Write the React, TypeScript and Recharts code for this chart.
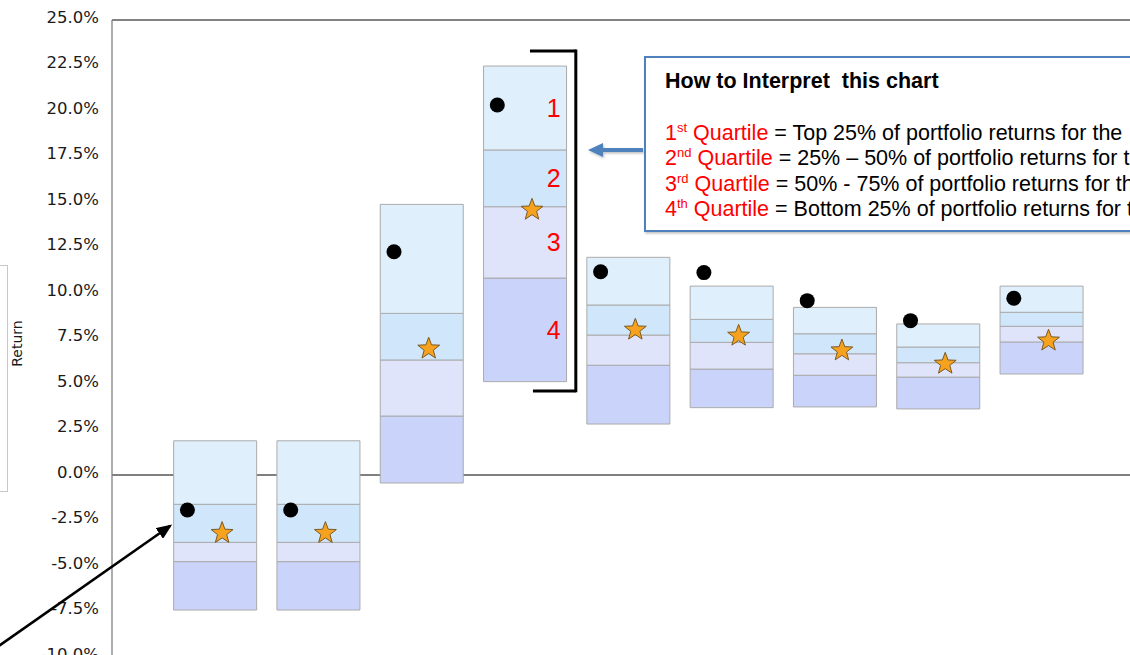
import React from "react";
import {
  ComposedChart,
  Bar,
  Scatter,
  XAxis,
  YAxis,
  CartesianGrid,
  ReferenceLine,
  LabelList,
} from "recharts";

// one slot per box on the x axis (no labels shown)
const boxIds = [1, 2, 3, 4, 5, 6, 7, 8, 9];

// quartile boundaries, in % return
const lowValues = [-7.42, -7.42, -0.44, 5.13, 2.8, 3.7, 3.74, 3.63, 5.55];
const q4Top = [-4.76, -4.76, 3.24, 10.82, 6.03, 5.82, 5.48, 5.38, 7.31];
const q3Top = [-3.7, -3.7, 6.32, 14.74, 7.69, 7.29, 6.66, 6.17, 8.17];
const q2Top = [-1.61, -1.61, 8.88, 17.86, 9.34, 8.55, 7.76, 7.03, 8.94];
const highValues = [1.88, 1.88, 14.87, 22.47, 11.96, 10.38, 9.21, 8.3, 10.38];

// markers
const dotValues = [-1.92, -1.92, 12.27, 20.33, 11.17, 11.12, 9.58, 8.48, 9.71];
const starValues = [-3.11, -3.11, 7.02, 14.65, 8.06, 7.73, 6.92, 6.19, 7.46];

const yTicks = [-10, -7.5, -5, -2.5, 0, 2.5, 5, 7.5, 10, 12.5, 15, 17.5, 20, 22.5, 25];
const yDomain = [-10, 25];

const explainedBox = 4; // box carrying the 1..4 labels

const DOT_SHIFT = -0.27;
const STAR_SHIFT = 0.066;

const boxData = boxIds.map((id, i) => ({
  x: id,
  base: lowValues[i],
  q4: q4Top[i] - lowValues[i],
  q3: q3Top[i] - q4Top[i],
  q2: q2Top[i] - q3Top[i],
  q1: highValues[i] - q2Top[i],
}));

const dotData = boxIds.map((id, i) => ({ x: id + DOT_SHIFT, y: dotValues[i] }));
const starData = boxIds.map((id, i) => ({ x: id + STAR_SHIFT, y: starValues[i] }));

const SANS = "'Liberation Sans', Arial, sans-serif";
const BLUE = "#4F81BD";
const RED = "#FF0000";

function Dot(props: any) {
  const { cx, cy } = props;
  return <circle cx={cx} cy={cy} r={7.5} fill="#000" />;
}

function Star(props: any) {
  const { cx, cy } = props;
  const outer = 11.5;
  const inner = 4.8;
  const pts: string[] = [];
  for (let k = 0; k < 10; k++) {
    const r = k % 2 === 0 ? outer : inner;
    const a = -Math.PI / 2 + (k * Math.PI) / 5;
    pts.push(`${cx + r * Math.cos(a)},${cy + 1.5 + r * Math.sin(a)}`);
  }
  return <polygon points={pts.join(" ")} fill="#F6A21E" stroke="#7A5A24" strokeWidth={1} />;
}

function quartileLabel(text: string) {
  return (props: any) => {
    const { x, y, width, height, index } = props;
    if (boxIds[index] !== explainedBox) return null;
    return (
      <text
        x={x + width - 6}
        y={y + height / 2 + 9}
        textAnchor="end"
        fill={RED}
        fontFamily={SANS}
        fontSize={25}
      >
        {text}
      </text>
    );
  };
}

// zero line drawn as a grid line so it stays behind the boxes
const zeroLine = (args: any) => {
  const s = args && args.yAxis && args.yAxis.scale;
  if (typeof s === "function") return [s(0)];
  if (s && typeof s.map === "function") return [s.map(0)];
  const off = args.offset;
  return [off.top + (off.height * yDomain[1]) / (yDomain[1] - yDomain[0])];
};

const segStroke = "#ABABAB";

export default function App() {
  return (
    <div
      style={{
        position: "absolute",
        left: 0,
        top: 0,
        width: 1130,
        height: 655,
        overflow: "hidden",
        background: "#fff",
      }}
    >
      <ComposedChart
        width={1160}
        height={690}
        data={boxData}
        margin={{ top: 20, right: 15, bottom: 33, left: 0 }}
      >
        <CartesianGrid
          vertical={false}
          stroke="#000"
          strokeWidth={1}
          horizontalCoordinatesGenerator={zeroLine}
        />
        <XAxis
          type="number"
          dataKey="x"
          domain={[0, 10]}
          ticks={boxIds}
          allowDataOverflow
          hide
        />
        <XAxis
          xAxisId="pts"
          type="number"
          dataKey="x"
          domain={[0, 10]}
          allowDataOverflow
          hide
        />
        <YAxis
          type="number"
          width={112}
          domain={yDomain}
          ticks={yTicks}
          interval={0}
          allowDataOverflow
          tickLine={false}
          tickSize={6}
          tickMargin={7}
          axisLine={{ stroke: "#808080", strokeWidth: 1.3 }}
          tick={{ fill: "#1a1a1a", fontSize: 16.5, fontFamily: "'DejaVu Sans', sans-serif", dy: -3 }}
          tickFormatter={(v: number) => `${v.toFixed(1)}%`}
        />
        <ReferenceLine y={25} stroke="#595959" strokeWidth={1.6} />

        <Bar dataKey="base" stackId="q" fill="transparent" stroke="none" barSize={83} isAnimationActive={false} />
        <Bar dataKey="q4" stackId="q" fill="#CAD3FA" stroke={segStroke} barSize={83} isAnimationActive={false}>
          <LabelList dataKey="q4" content={quartileLabel("4")} />
        </Bar>
        <Bar dataKey="q3" stackId="q" fill="#E0E4FA" stroke={segStroke} barSize={83} isAnimationActive={false}>
          <LabelList dataKey="q3" content={quartileLabel("3")} />
        </Bar>
        <Bar dataKey="q2" stackId="q" fill="#D0E6FA" stroke={segStroke} barSize={83} isAnimationActive={false}>
          <LabelList dataKey="q2" content={quartileLabel("2")} />
        </Bar>
        <Bar dataKey="q1" stackId="q" fill="#DFEFFC" stroke={segStroke} barSize={83} isAnimationActive={false}>
          <LabelList dataKey="q1" content={quartileLabel("1")} />
        </Bar>

        <Scatter xAxisId="pts" data={dotData} dataKey="y" shape={Dot} isAnimationActive={false} />
        <Scatter xAxisId="pts" data={starData} dataKey="y" shape={Star} isAnimationActive={false} />

        {/* bracket around the explained box */}
        <ReferenceLine
          segment={[{ x: 4.046, y: 23.3 }, { x: 4.49, y: 23.3 }]}
          stroke="#000"
          strokeWidth={3}
          ifOverflow="visible"
        />
        <ReferenceLine
          segment={[{ x: 4.49, y: 23.38 }, { x: 4.49, y: 4.54 }]}
          stroke="#000"
          strokeWidth={3}
          ifOverflow="visible"
        />
        <ReferenceLine
          segment={[{ x: 4.075, y: 4.62 }, { x: 4.49, y: 4.62 }]}
          stroke="#000"
          strokeWidth={3}
          ifOverflow="visible"
        />
      </ComposedChart>

      <svg
        width={1130}
        height={655}
        style={{ position: "absolute", left: 0, top: 0, pointerEvents: "none" }}
      >
        <defs>
          <marker id="blackHead" markerWidth="6" markerHeight="5" refX="5" refY="2.5" orient="auto">
            <polygon points="0,0 6,2.5 0,5" fill="#000" />
          </marker>
          <filter id="shadow" x="-5%" y="-5%" width="110%" height="120%">
            <feDropShadow dx="1" dy="1.5" stdDeviation="1.2" floodColor="#000" floodOpacity="0.25" />
          </filter>
        </defs>

        {/* y axis title frame */}
        <rect x={-10} y={265.5} width={17.5} height={226} fill="none" stroke="#C8C8C8" strokeWidth={1} />
        <text
          x={22}
          y={343.5}
          transform="rotate(-90 22 343.5)"
          textAnchor="middle"
          fontFamily="'DejaVu Sans', sans-serif"
          fontSize={14}
          fill="#1a1a1a"
        >
          Return
        </text>

        {/* pointer to the first dot */}
        <line x1={-4} y1={648} x2={170} y2={526} stroke="#000" strokeWidth={2.6} markerEnd="url(#blackHead)" />

        {/* interpretation panel */}
        <g filter="url(#shadow)">
          <line x1={643} y1={150} x2={601} y2={150} stroke={BLUE} strokeWidth={4} />
          <polygon points="588,150 603,143 603,157" fill={BLUE} />
          <rect x={645} y={57} width={520} height={174} fill="#fff" stroke={BLUE} strokeWidth={2} />
        </g>
        <g fontFamily={SANS} fontSize={21.5}>
          <text x={665} y={87.5} fontWeight="bold" fill="#000" xmlSpace="preserve">
            {"How to Interpret  this chart"}
          </text>
          <text x={665} y={139.5} fill="#000" xmlSpace="preserve">
            <tspan fill={RED}>1</tspan>
            <tspan fill={RED} fontSize={13} dy={-8}>st</tspan>
            <tspan fill={RED} dy={8}>{" Quartile"}</tspan>
            <tspan>{" = Top 25% of portfolio returns for the"}</tspan>
          </text>
          <text x={665} y={165} fill="#000" xmlSpace="preserve">
            <tspan fill={RED}>2</tspan>
            <tspan fill={RED} fontSize={13} dy={-8}>nd</tspan>
            <tspan fill={RED} dy={8}>{" Quartile"}</tspan>
            <tspan>{" = 25% – 50% of portfolio returns for the"}</tspan>
          </text>
          <text x={665} y={190.5} fill="#000" xmlSpace="preserve">
            <tspan fill={RED}>3</tspan>
            <tspan fill={RED} fontSize={13} dy={-8}>rd</tspan>
            <tspan fill={RED} dy={8}>{" Quartile"}</tspan>
            <tspan>{" = 50% - 75% of portfolio returns for the"}</tspan>
          </text>
          <text x={665} y={216} fill="#000" xmlSpace="preserve">
            <tspan fill={RED}>4</tspan>
            <tspan fill={RED} fontSize={13} dy={-8}>th</tspan>
            <tspan fill={RED} dy={8}>{" Quartile"}</tspan>
            <tspan>{" = Bottom 25% of portfolio returns for the"}</tspan>
          </text>
        </g>
      </svg>
    </div>
  );
}
